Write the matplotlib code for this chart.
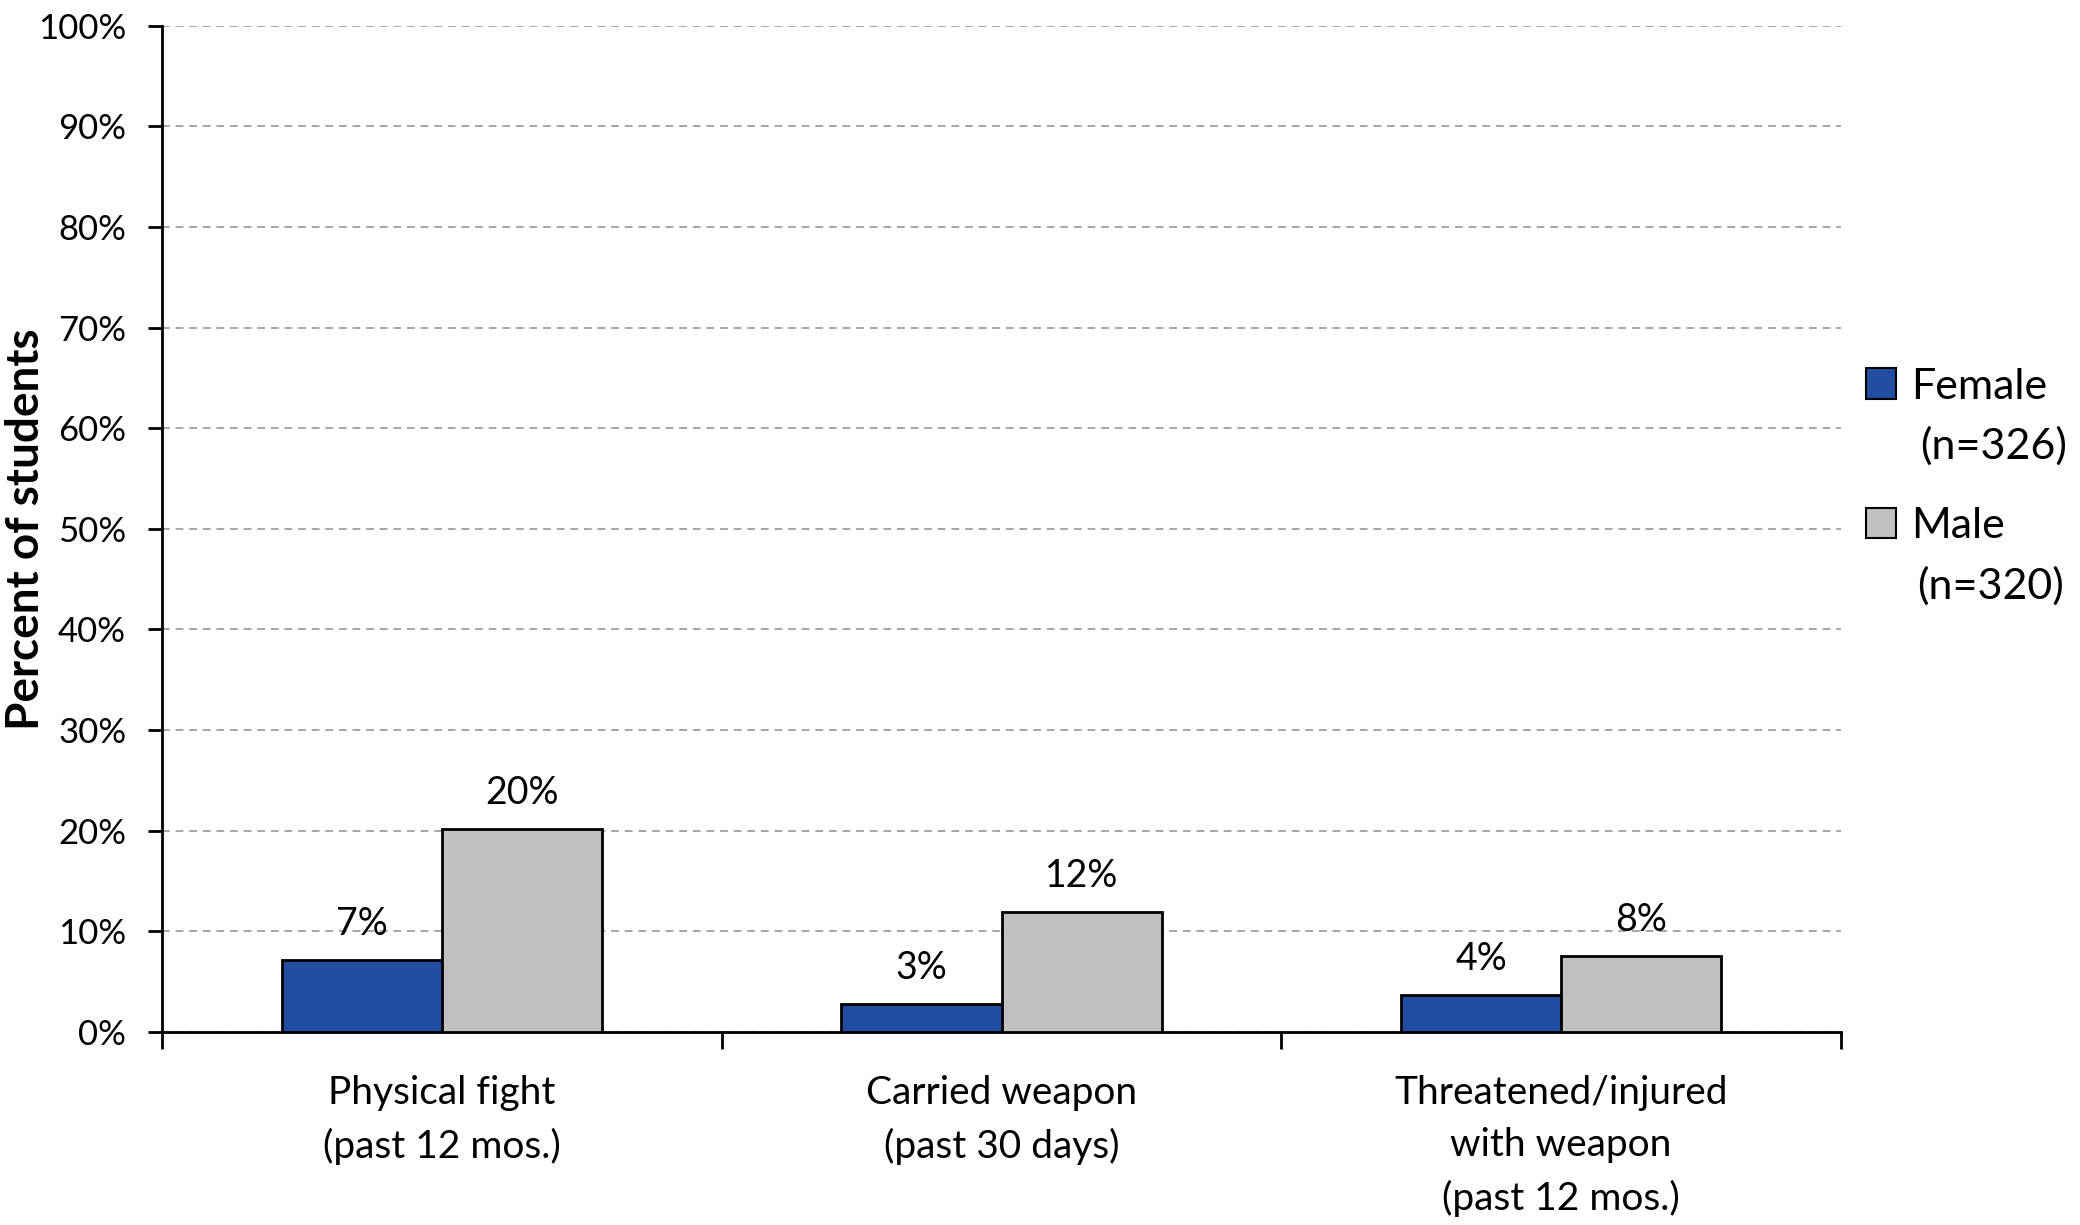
import matplotlib
matplotlib.use('Agg')
import matplotlib.pyplot as plt
from matplotlib.patches import Patch
from matplotlib.text import Annotation
import numpy as np

# data
categories = ['Physical fight\n(past 12 mos.)',
              'Carried weapon\n(past 30 days)',
              'Threatened/injured\nwith weapon\n(past 12 mos.)']
female = [7.1, 2.8, 3.7]
male = [20.2, 11.9, 7.5]
female_labels = ['7%', '3%', '4%']
male_labels = ['20%', '12%', '8%']
series_names = ['Female', 'Male']
series_n = ['(n=326)', '(n=320)']
yticks = list(range(0, 101, 10))

plt.rcParams['font.family'] = ['Lato', 'DejaVu Sans']

blue = '#214ea1'
grey = '#c0c0c0'

fig = plt.figure(figsize=(20.8, 12.25), dpi=100)
ax = fig.add_axes([0.078, 0.1576, 0.807, 0.8214])

x = np.arange(len(categories))
w = 0.286
ax.bar(x - w / 2, female, w, color=blue, edgecolor='black', linewidth=2, zorder=3)
ax.bar(x + w / 2, male, w, color=grey, edgecolor='black', linewidth=2, zorder=3)

for xi, v, lab in zip(x, female, female_labels):
    ax.annotate(lab, (xi - w / 2, v), xytext=(0, 13), textcoords='offset points',
                ha='center', va='bottom', fontsize=27)
for xi, v, lab in zip(x, male, male_labels):
    ax.annotate(lab, (xi + w / 2, v), xytext=(0, 13), textcoords='offset points',
                ha='center', va='bottom', fontsize=27)

ax.set_xlim(-0.5, len(categories) - 0.5)
ax.set_ylim(0, 100)
ax.set_yticks(yticks)
ax.set_yticklabels([f'{t}%' for t in yticks], fontsize=25)
ax.yaxis.grid(True, linestyle=(0, (4, 3)), color='#a6a6a6', linewidth=1.4, zorder=0)

# category ticks sit on the group boundaries, labels at the centres
ax.set_xticks(np.arange(-0.5, len(categories)), minor=False)
ax.set_xticklabels([])
ax.set_xticks(x, minor=True)
ax.set_xticklabels(categories, minor=True, fontsize=28, linespacing=1.56)
ax.tick_params(axis='x', which='major', length=12, width=2, direction='out')
ax.tick_params(axis='x', which='minor', length=0, pad=31)
ax.tick_params(axis='y', length=10, width=2, pad=16)

for s in ['top', 'right']:
    ax.spines[s].set_visible(False)
for s in ['left', 'bottom']:
    ax.spines[s].set_linewidth(2)

ax.set_ylabel('Percent of students', fontsize=33, fontweight='bold', va='center')
ax.yaxis.set_label_coords(-0.081, 0.5)

handles = [Patch(facecolor=blue, edgecolor='black', linewidth=1.5),
           Patch(facecolor=grey, edgecolor='black', linewidth=1.5)]
leg = fig.legend(handles, series_names, loc='upper left', bbox_to_anchor=(0.889, 0.714),
                 frameon=False, fontsize=31, handlelength=0.7, handleheight=0.7,
                 handletextpad=0.33, labelspacing=2.36, borderaxespad=0)
# sample sizes go on a second line under each legend entry
for t, n in zip(leg.get_texts(), series_n):
    ann = Annotation(n, xy=(0.07, 0), xycoords=t, xytext=(0, -15),
                     textcoords='offset points', ha='left', va='top', fontsize=31,
                     annotation_clip=False)
    ann.set_zorder(10)
    fig.add_artist(ann)

fig.savefig('out.png', dpi=100)
